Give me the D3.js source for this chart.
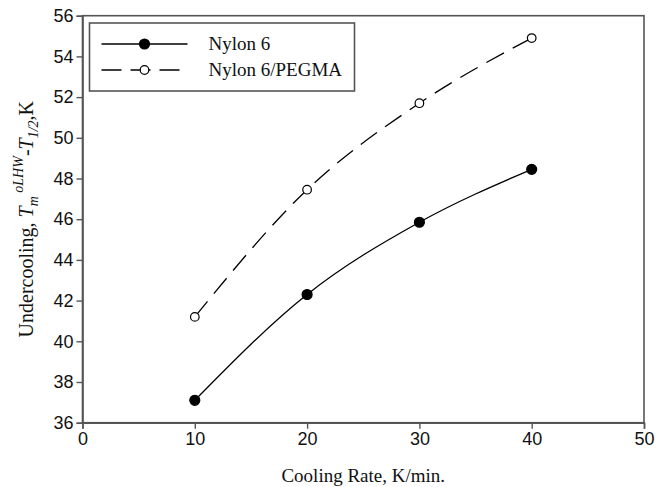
<!DOCTYPE html>
<html>
<head>
<meta charset="utf-8">
<script src="https://cdn.jsdelivr.net/npm/d3@7"></script>
<style>
  body { margin: 0; background: #fff; }
  .tick text { font-family: "Liberation Sans", Arial, sans-serif; font-size: 18px; fill: #111; }
  .serif { font-family: "Liberation Serif", "Times New Roman", serif; fill: #111; }
</style>
</head>
<body>
<div id="chart"></div>
<script>
const W = 659, H = 487;
const margin = { left: 82.5, right: 15, top: 15.7, bottom: 64.3 };
const width = W - margin.left - margin.right;
const height = H - margin.top - margin.bottom;

const coolingRate = [10, 20, 30, 40];
const nylon6 = [37.1, 42.3, 45.85, 48.45];
const nylon6Pegma = [41.2, 47.45, 51.7, 54.9];
const xTicks = [0, 10, 20, 30, 40, 50];
const yTicks = [36, 38, 40, 42, 44, 46, 48, 50, 52, 54, 56];

const series = [
  { name: "Nylon 6", values: nylon6, dash: null, fill: "#000", r: 5 },
  { name: "Nylon 6/PEGMA", values: nylon6Pegma, dash: "20,10", fill: "#fff", r: 4.3 }
];

const svg = d3.select("#chart").append("svg")
  .attr("width", W)
  .attr("height", H);

const chart = svg.append("g")
  .attr("transform", `translate(${margin.left}, ${margin.top})`);

const x = d3.scaleLinear().domain([0, 50]).range([0, width]);
const y = d3.scaleLinear().domain([36, 56]).range([height, 0]);

// frame
chart.append("rect")
  .attr("width", width)
  .attr("height", height)
  .attr("fill", "none")
  .attr("stroke", "#555")
  .attr("stroke-width", 1.6);

const xAxis = chart.append("g")
  .attr("transform", `translate(0, ${height})`)
  .call(d3.axisBottom(x).tickValues(xTicks).tickSize(6).tickPadding(4));

const yAxis = chart.append("g")
  .call(d3.axisLeft(y).tickValues(yTicks).tickSize(6).tickPadding(3));

[xAxis, yAxis].forEach(a => {
  a.select(".domain").attr("stroke", "#555").attr("stroke-width", 1.6);
  a.selectAll(".tick line").attr("stroke", "#555").attr("stroke-width", 1.4);
});

const line = d3.line()
  .x((d, i) => x(coolingRate[i]))
  .y(d => y(d))
  .curve(d3.curveMonotoneX);

series.forEach(s => {
  chart.append("path")
    .datum(s.values)
    .attr("d", line)
    .attr("fill", "none")
    .attr("stroke", "#000")
    .attr("stroke-width", 1.3)
    .attr("stroke-dasharray", s.dash);

  chart.selectAll(null)
    .data(s.values)
    .enter()
    .append("circle")
    .attr("cx", (d, i) => x(coolingRate[i]))
    .attr("cy", d => y(d))
    .attr("r", s.r)
    .attr("fill", s.fill)
    .attr("stroke", "#000")
    .attr("stroke-width", 1.2);
});

// legend
const legend = svg.append("g").attr("transform", "translate(89.5, 23)");
legend.append("rect")
  .attr("width", 265)
  .attr("height", 68)
  .attr("fill", "#fff")
  .attr("stroke", "#555")
  .attr("stroke-width", 1.6);

series.forEach((s, i) => {
  const ly = 21 + i * 26;
  legend.append("line")
    .attr("x1", 12).attr("x2", 98)
    .attr("y1", ly).attr("y2", ly)
    .attr("stroke", "#000")
    .attr("stroke-width", 1.3)
    .attr("stroke-dasharray", s.dash ? "20,9" : null);
  legend.append("circle")
    .attr("cx", 55).attr("cy", ly)
    .attr("r", s.r)
    .attr("fill", s.fill)
    .attr("stroke", "#000")
    .attr("stroke-width", 1.2);
  legend.append("text")
    .attr("class", "serif")
    .attr("x", 119)
    .attr("y", ly + 6)
    .attr("font-size", 19)
    .text(s.name);
});

// x title
svg.append("text")
  .attr("class", "serif")
  .attr("x", margin.left + width / 2)
  .attr("y", 482)
  .attr("text-anchor", "middle")
  .attr("font-size", 19)
  .text("Cooling Rate, K/min.");

// y title
const yt = svg.append("text")
  .attr("class", "serif")
  .attr("transform", `translate(33, ${margin.top + height / 2}) rotate(-90)`)
  .attr("text-anchor", "middle")
  .attr("font-size", 20);
yt.append("tspan").text("Undercooling,  ");
yt.append("tspan").attr("font-style", "italic").text("T");
yt.append("tspan").attr("font-style", "italic").attr("font-size", 14).attr("dy", 5).text("m");
yt.append("tspan").attr("font-style", "italic").attr("font-size", 14).attr("dy", -15).text(" oLHW");
yt.append("tspan").attr("dy", 10).text("-");
yt.append("tspan").attr("font-style", "italic").text("T");
yt.append("tspan").attr("font-style", "italic").attr("font-size", 14).attr("dy", 5).text("1/2");
yt.append("tspan").attr("dy", -5).text(",K");
</script>
</body>
</html>
